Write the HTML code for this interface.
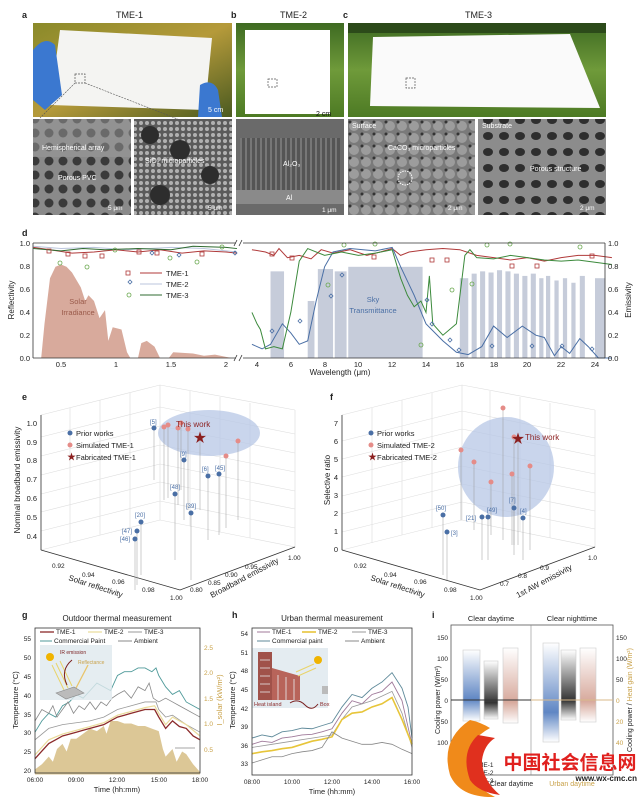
<!DOCTYPE html>
<html><head><meta charset="utf-8"><style>
html,body{margin:0;padding:0;background:#fff;}
svg{display:block;font-family:"Liberation Sans","Noto Sans CJK SC",sans-serif;}
</style></head><body>
<svg width="640" height="798" viewBox="0 0 640 798" xmlns="http://www.w3.org/2000/svg">
<defs>
<linearGradient id="gb" x1="0" y1="0" x2="0" y2="1"><stop offset="0" stop-color="#fff"/><stop offset="0.7" stop-color="#5f86c4"/><stop offset="1" stop-color="#fff"/></linearGradient>
<linearGradient id="gk" x1="0" y1="0" x2="0" y2="1"><stop offset="0" stop-color="#fff"/><stop offset="0.72" stop-color="#333"/><stop offset="1" stop-color="#fff"/></linearGradient>
<linearGradient id="gp" x1="0" y1="0" x2="0" y2="1"><stop offset="0" stop-color="#fff"/><stop offset="0.72" stop-color="#d7a99c"/><stop offset="1" stop-color="#fff"/></linearGradient>
<linearGradient id="fol" x1="0" y1="0" x2="1" y2="1"><stop offset="0" stop-color="#8a8a2a"/><stop offset="0.5" stop-color="#b59a3a"/><stop offset="1" stop-color="#4a5a20"/></linearGradient>
<linearGradient id="grn" x1="0" y1="0" x2="0" y2="1"><stop offset="0" stop-color="#3e6a22"/><stop offset="0.5" stop-color="#6f9a3a"/><stop offset="1" stop-color="#4d7a24"/></linearGradient>
<pattern id="sem1" width="14" height="14" patternUnits="userSpaceOnUse"><rect width="14" height="14" fill="#8a8a8a"/><circle cx="7" cy="7" r="4.5" fill="#3a3a3a"/></pattern>
<pattern id="sem2" width="6" height="6" patternUnits="userSpaceOnUse"><rect width="6" height="6" fill="#5a5a5a"/><circle cx="3" cy="3" r="2" fill="#b0b0b0"/></pattern>
<pattern id="sem3" width="12" height="12" patternUnits="userSpaceOnUse"><rect width="12" height="12" fill="#7a7a7a"/><circle cx="6" cy="6" r="5" fill="#9c9c9c"/><circle cx="2" cy="2" r="1.5" fill="#333"/></pattern>
<pattern id="sem4" width="16" height="16" patternUnits="userSpaceOnUse"><rect width="16" height="16" fill="#8c8c8c"/><ellipse cx="8" cy="8" rx="5" ry="4" fill="#2e2e2e"/></pattern>
<pattern id="alu" width="5" height="10" patternUnits="userSpaceOnUse"><rect width="5" height="10" fill="#555"/><rect width="2" height="10" fill="#777"/></pattern>
</defs>

<!-- ===== Top labels ===== -->
<g font-size="9" fill="#222">
<text x="22" y="18" font-weight="bold">a</text><text x="116" y="18">TME-1</text>
<text x="231" y="18" font-weight="bold">b</text><text x="280" y="18">TME-2</text>
<text x="343" y="18" font-weight="bold">c</text><text x="465" y="18">TME-3</text>
</g>
<!-- photo a -->
<rect x="33" y="23" width="199" height="94" fill="url(#fol)"/>
<polygon points="60,30 212,38 205,110 50,105" fill="#f4f4f2"/>
<path d="M33,50 Q45,35 55,45 L62,95 L45,110 L33,100Z" fill="#3b78d0"/>
<path d="M200,85 Q212,78 218,90 L222,117 L198,117Z" fill="#3b78d0"/>
<rect x="75" y="74" width="10" height="9" fill="none" stroke="#555" stroke-dasharray="2,1" stroke-width="0.7"/>
<line x1="75" y1="83" x2="40" y2="118" stroke="#555" stroke-dasharray="2,1" stroke-width="0.6"/>
<line x1="85" y1="83" x2="180" y2="120" stroke="#555" stroke-dasharray="2,1" stroke-width="0.6"/>
<text x="208" y="112" font-size="7" fill="#fff">5 cm</text>
<!-- photo b -->
<rect x="236" y="23" width="108" height="94" fill="url(#grn)"/>
<rect x="245" y="30" width="85" height="84" fill="#fff"/>
<rect x="268" y="79" width="9" height="8" fill="none" stroke="#555" stroke-dasharray="2,1" stroke-width="0.7"/>
<text x="316" y="116" font-size="7" fill="#111">2 cm</text>
<!-- photo c -->
<rect x="348" y="23" width="258" height="94" fill="url(#grn)"/>
<rect x="348" y="23" width="258" height="10" fill="#2c4a1a"/>
<polygon points="373,37 570,34 600,108 370,106" fill="#fafafa"/>
<rect x="406" y="78" width="9" height="10" fill="none" stroke="#555" stroke-dasharray="2,1" stroke-width="0.7"/>
<!-- SEM row -->
<rect x="33" y="119" width="98" height="96" fill="url(#sem1)"/>
<rect x="33" y="119" width="98" height="38" fill="#9a9a9a" opacity="0.5"/>
<text x="42" y="150" font-size="7" fill="#fff">Hemispherical array</text>
<text x="58" y="180" font-size="7" fill="#fff">Porous PVC</text>
<text x="108" y="210" font-size="6.5" fill="#fff">5 μm</text>
<rect x="134" y="119" width="98" height="96" fill="url(#sem2)"/>
<circle cx="150" cy="135" r="9" fill="#2d2d2d"/><circle cx="180" cy="150" r="10" fill="#2d2d2d"/><circle cx="210" cy="175" r="9" fill="#2d2d2d"/><circle cx="160" cy="195" r="10" fill="#2d2d2d"/>
<text x="145" y="163" font-size="7" fill="#fff">SiO₂ microparticles</text>
<text x="208" y="210" font-size="6.5" fill="#fff">5 μm</text>
<rect x="236" y="119" width="108" height="96" fill="#6a6a6a"/>
<rect x="240" y="138" width="100" height="52" fill="url(#alu)"/>
<rect x="236" y="190" width="108" height="14" fill="#8a8a8a"/>
<text x="283" y="166" font-size="7" fill="#fff">Al₂O₃</text>
<text x="286" y="200" font-size="7" fill="#fff">Al</text>
<text x="322" y="212" font-size="6.5" fill="#fff">1 μm</text>
<rect x="348" y="119" width="127" height="96" fill="url(#sem3)"/>
<text x="352" y="128" font-size="7" fill="#fff">Surface</text>
<text x="388" y="150" font-size="7" fill="#fff">CaCO₃ microparticles</text>
<ellipse cx="405" cy="178" rx="7" ry="7" fill="none" stroke="#fff" stroke-dasharray="1.5,1"/>
<text x="448" y="210" font-size="6.5" fill="#fff">2 μm</text>
<rect x="478" y="119" width="128" height="96" fill="url(#sem4)"/>
<text x="482" y="128" font-size="7" fill="#fff">Substrate</text>
<text x="530" y="171" font-size="7" fill="#fff">Porous structure</text>
<text x="580" y="210" font-size="6.5" fill="#fff">2 μm</text>

<!-- ===== Panel d ===== -->
<text x="22" y="236" font-size="9" font-weight="bold" fill="#222">d</text>
<!-- solar fill -->
<g transform="translate(6,358) scale(110,-114)">
<polygon fill="#d8aa9c" points="0.32,0 0.35,0.3 0.4,0.7 0.45,0.8 0.5,0.82 0.55,0.8 0.6,0.75 0.68,0.62 0.72,0.5 0.75,0.55 0.8,0.5 0.85,0.35 0.9,0.42 0.93,0.15 0.97,0.27 1.05,0.25 1.1,0.05 1.13,0 1.2,0 1.23,0.13 1.28,0.15 1.35,0.1 1.4,0 1.48,0 1.52,0.05 1.7,0.04 1.8,0.02 1.9,0.03 2.0,0.01 2.05,0"/>
<polyline fill="none" stroke="#b03a3a" stroke-width="1" vector-effect="non-scaling-stroke" points="0.25,0.97 0.4,0.95 0.6,0.92 0.8,0.93 1,0.95 1.2,0.93 1.4,0.95 1.6,0.92 1.8,0.94 2.0,0.93 2.1,0.92"/>
<polyline fill="none" stroke="#bbc6dd" stroke-width="1" vector-effect="non-scaling-stroke" points="0.25,0.98 0.5,0.96 0.8,0.97 1.1,0.95 1.5,0.97 1.8,0.96 2.1,0.93"/>
<polyline fill="none" stroke="#2f6b30" stroke-width="1" vector-effect="non-scaling-stroke" points="0.25,0.96 0.5,0.94 0.7,0.96 0.9,0.95 1.2,0.96 1.5,0.95 1.7,0.98 2.0,0.97 2.1,0.96"/>
</g>
<!-- sky transmittance -->
<g transform="translate(189.4,358) scale(16.9,-114)" fill="#c6ccda">
<rect x="4.8" y="0" width="0.8" height="0.76"/>
<rect x="7.0" y="0" width="0.4" height="0.5"/>
<rect x="7.6" y="0" width="0.9" height="0.78"/>
<rect x="8.6" y="0" width="0.7" height="0.76"/>
<rect x="9.4" y="0" width="4.4" height="0.8"/>
<rect x="16.0" y="0" width="0.5" height="0.7"/>
<rect x="16.7" y="0" width="0.3" height="0.74"/><rect x="17.2" y="0" width="0.3" height="0.76"/><rect x="17.7" y="0" width="0.3" height="0.75"/>
<rect x="18.2" y="0" width="0.3" height="0.77"/><rect x="18.7" y="0" width="0.3" height="0.76"/><rect x="19.2" y="0" width="0.3" height="0.74"/>
<rect x="19.7" y="0" width="0.3" height="0.72"/><rect x="20.2" y="0" width="0.3" height="0.74"/><rect x="20.7" y="0" width="0.25" height="0.7"/>
<rect x="21.1" y="0" width="0.25" height="0.72"/><rect x="21.6" y="0" width="0.25" height="0.68"/><rect x="22.1" y="0" width="0.25" height="0.7"/>
<rect x="22.6" y="0" width="0.25" height="0.66"/><rect x="23.1" y="0" width="0.3" height="0.72"/>
<rect x="24.0" y="0" width="0.6" height="0.7"/>
<polyline fill="none" stroke="#b03a3a" stroke-width="1" vector-effect="non-scaling-stroke" points="3.7,0.95 4.5,0.93 5,0.9 5.3,0.96 5.8,0.88 6.5,0.9 7.2,0.87 7.8,0.95 8.5,0.92 9.5,0.95 10.5,0.9 11.3,0.93 12,0.96 12.5,0.9 13,0.93 14,0.95 15,0.96 16,0.95 17,0.9 18,0.88 19,0.86 20,0.88 21,0.85 22,0.88 23,0.9 24,0.9 25,0.88"/>
<polyline fill="none" stroke="#4a6fa5" stroke-width="1" vector-effect="non-scaling-stroke" points="3.7,0.12 4.3,0.08 4.8,0.12 5.5,0.3 6,0.22 6.5,0.12 7,0.15 7.5,0.5 8,0.8 8.5,0.93 9.5,0.96 11,0.94 12,0.97 12.5,0.8 13.3,0.55 14,0.3 15,0.15 15.8,0.05 16.5,0.03 17.3,0.1 18,0.28 18.8,0.18 19.7,0.28 20.5,0.2 21,0.18 21.6,0.02 22,0.1 22.5,0.04 23.1,0.17 23.6,0.1 24.2,0 25,0"/>
<polyline fill="none" stroke="#3c8a3c" stroke-width="1" vector-effect="non-scaling-stroke" points="3.7,0.4 4,0.3 4.2,0.25 4.5,0.08 5,0.1 5.5,0.08 6,0.4 6.5,0.85 7,0.96 8,0.9 9,0.93 10,0.9 11,0.92 12,0.95 12.5,0.7 12.9,0.55 13.3,0.45 13.7,0.5 14,0.4 14.2,0.72 14.4,0.3 15,0.2 15.8,0.3 16.3,0.9 16.6,0.95 17,0.88 18,0.87 19,0.9 20,0.88 21,0.86 22,0.85 23,0.86 24,0.84 25,0.82"/>
</g>
<!-- markers -->
<g fill="none" stroke-width="0.8">
<g stroke="#b03a3a"><rect x="47" y="249" width="4" height="4"/><rect x="66" y="252" width="4" height="4"/><rect x="83" y="254" width="4" height="4"/><rect x="100" y="254" width="4" height="4"/><rect x="137" y="250" width="4" height="4"/><rect x="155" y="251" width="4" height="4"/><rect x="200" y="252" width="4" height="4"/><rect x="270" y="252" width="4" height="4"/><rect x="290" y="256" width="4" height="4"/><rect x="372" y="255" width="4" height="4"/><rect x="430" y="258" width="4" height="4"/><rect x="445" y="258" width="4" height="4"/><rect x="510" y="264" width="4" height="4"/><rect x="535" y="264" width="4" height="4"/><rect x="590" y="254" width="4" height="4"/></g>
<g stroke="#4a6fa5"><path d="M150,253 l2,-2 l2,2 l-2,2z M177,255 l2,-2 l2,2 l-2,2z M233,253 l2,-2 l2,2 l-2,2z M270,331 l2,-2 l2,2 l-2,2z M298,321 l2,-2 l2,2 l-2,2z M329,296 l2,-2 l2,2 l-2,2z M340,275 l2,-2 l2,2 l-2,2z M425,300 l2,-2 l2,2 l-2,2z M430,324 l2,-2 l2,2 l-2,2z M448,340 l2,-2 l2,2 l-2,2z M457,350 l2,-2 l2,2 l-2,2z M490,346 l2,-2 l2,2 l-2,2z M530,346 l2,-2 l2,2 l-2,2z M560,346 l2,-2 l2,2 l-2,2z M590,349 l2,-2 l2,2 l-2,2z"/></g>
<g stroke="#6aa84f"><circle cx="60" cy="263" r="2"/><circle cx="87" cy="267" r="2"/><circle cx="115" cy="250" r="2"/><circle cx="170" cy="258" r="2"/><circle cx="197" cy="262" r="2"/><circle cx="222" cy="247" r="2"/><circle cx="328" cy="285" r="2"/><circle cx="344" cy="245" r="2"/><circle cx="375" cy="244" r="2"/><circle cx="421" cy="345" r="2"/><circle cx="452" cy="290" r="2"/><circle cx="472" cy="284" r="2"/><circle cx="487" cy="245" r="2"/><circle cx="510" cy="244" r="2"/><circle cx="580" cy="247" r="2"/></g>
</g>
<!-- d axes -->
<g stroke="#333" stroke-width="0.8" fill="none">
<line x1="33" y1="243" x2="236" y2="243"/><line x1="243" y1="243" x2="605" y2="243" />
<line x1="33" y1="358" x2="236" y2="358"/><line x1="243" y1="358" x2="605" y2="358"/>
<line x1="33" y1="243" x2="33" y2="358"/><line x1="605" y1="243" x2="605" y2="358"/>
<path d="M234,361 l3,-6 M239,361 l3,-6 M234,246 l3,-6 M239,246 l3,-6"/>
</g>
<g font-size="7.5" fill="#222">
<text x="30" y="246" text-anchor="end">1.0</text><text x="30" y="269" text-anchor="end">0.8</text><text x="30" y="292" text-anchor="end">0.6</text><text x="30" y="315" text-anchor="end">0.4</text><text x="30" y="338" text-anchor="end">0.2</text><text x="30" y="361" text-anchor="end">0.0</text>
<text x="608" y="246">1.0</text><text x="608" y="269">0.8</text><text x="608" y="292">0.6</text><text x="608" y="315">0.4</text><text x="608" y="338">0.2</text><text x="608" y="361">0.0</text>
<text x="61" y="367" text-anchor="middle">0.5</text><text x="116" y="367" text-anchor="middle">1</text><text x="171" y="367" text-anchor="middle">1.5</text><text x="226" y="367" text-anchor="middle">2</text>
<text x="257" y="367" text-anchor="middle">4</text><text x="291" y="367" text-anchor="middle">6</text><text x="325" y="367" text-anchor="middle">8</text><text x="358" y="367" text-anchor="middle">10</text><text x="392" y="367" text-anchor="middle">12</text><text x="426" y="367" text-anchor="middle">14</text><text x="460" y="367" text-anchor="middle">16</text><text x="494" y="367" text-anchor="middle">18</text><text x="527" y="367" text-anchor="middle">20</text><text x="561" y="367" text-anchor="middle">22</text><text x="595" y="367" text-anchor="middle">24</text>
<text x="340" y="375" text-anchor="middle" font-size="8">Wavelength (μm)</text>
<text transform="translate(14,300) rotate(-90)" text-anchor="middle" font-size="8">Reflectivity</text>
<text transform="translate(631,300) rotate(-90)" text-anchor="middle" font-size="8">Emissivity</text>
<text x="78" y="304" text-anchor="middle" fill="#9a5a4a" font-size="7.5">Solar</text>
<text x="78" y="315" text-anchor="middle" fill="#9a5a4a" font-size="7.5">Irradiance</text>
<text x="373" y="302" text-anchor="middle" fill="#4a6fa5" font-size="7.5">Sky</text>
<text x="373" y="313" text-anchor="middle" fill="#4a6fa5" font-size="7.5">Transmittance</text>
<text x="166" y="276">TME-1</text><text x="166" y="287">TME-2</text><text x="166" y="298">TME-3</text>
</g>
<rect x="126" y="271" width="4" height="4" fill="none" stroke="#b03a3a" stroke-width="0.8"/>
<path d="M128,282 l2,-2 l2,2 l-2,2z" fill="none" stroke="#4a6fa5" stroke-width="0.8"/>
<circle cx="129" cy="295" r="2" fill="none" stroke="#6aa84f" stroke-width="0.8"/>
<line x1="140" y1="273" x2="162" y2="273" stroke="#b03a3a"/><line x1="140" y1="284" x2="162" y2="284" stroke="#bbc6dd"/><line x1="140" y1="295" x2="162" y2="295" stroke="#2f6b30"/>

<!-- ===== Panel e ===== -->
<text x="22" y="400" font-size="9" font-weight="bold" fill="#222">e</text>
<g stroke="#ddd" stroke-width="0.6" fill="none">
<path d="M41,550 L160,520 L295,547 L180,590Z"/>
<path d="M41,550 L41,415 M160,520 L160,385 M295,547 L295,410"/>
<path d="M41,415 L160,385 L295,410"/>
<path d="M41,531 L160,501 L295,528 M41,512 L160,482 L295,509 M41,494 L160,464 L295,491 M41,475 L160,445 L295,472 M41,456 L160,426 L295,453 M41,437 L160,407 L295,434"/>
<path d="M70,543 L70,408 M100,535 L100,400 M130,528 L130,393 M190,526 L190,391 M220,532 L220,397 M250,538 L250,403"/>
</g>
<g stroke="#333" stroke-width="0.8" fill="none"><path d="M41,550 L180,590 L295,547"/><path d="M41,415 L41,550"/></g>
<ellipse cx="209" cy="433" rx="51" ry="23" fill="#b7c7e6" opacity="0.75"/>
<g stroke="#999" stroke-width="0.5">
<path d="M154,428 V480 M184,460 V520 M208,476 V540 M219,474 V535 M175,494 V560 M191,513 V580 M141,522 V575 M137,531 V585 M135,539 V590 M200,438 V510 M164,427 V500 M168,425 V498 M178,428 V505 M188,429 V510 M238,441 V520 M226,456 V528 M181,423 V490"/>
</g>
<g fill="#e58c88"><circle cx="164" cy="427" r="2.5"/><circle cx="168" cy="425" r="2.5"/><circle cx="178" cy="428" r="2.5"/><circle cx="188" cy="429" r="2.5"/><circle cx="238" cy="441" r="2.5"/><circle cx="226" cy="456" r="2.5"/><circle cx="181" cy="423" r="2.5"/></g>
<g fill="#4a6fa5"><circle cx="154" cy="428" r="2.5"/><circle cx="184" cy="460" r="2.5"/><circle cx="208" cy="476" r="2.5"/><circle cx="219" cy="474" r="2.5"/><circle cx="175" cy="494" r="2.5"/><circle cx="191" cy="513" r="2.5"/><circle cx="141" cy="522" r="2.5"/><circle cx="137" cy="531" r="2.5"/><circle cx="135" cy="539" r="2.5"/></g>
<text x="200" y="442" font-size="13" fill="#8b1f1f" text-anchor="middle">★</text>
<g font-size="6" fill="#4a6fa5"><text x="150" y="424">[5]</text><text x="180" y="456">[9]</text><text x="202" y="471">[6]</text><text x="215" y="470">[45]</text><text x="170" y="489">[48]</text><text x="186" y="508">[39]</text><text x="135" y="517">[20]</text><text x="122" y="533">[47]</text><text x="120" y="541">[46]</text></g>
<text x="176" y="427" font-size="8" fill="#8b1f1f">This work</text>
<g font-size="7.5" fill="#222">
<circle cx="70" cy="433" r="2.5" fill="#4a6fa5"/><text x="76" y="436">Prior works</text>
<circle cx="70" cy="445" r="2.5" fill="#e58c88"/><text x="76" y="448">Simulated TME-1</text>
<text x="67" y="460" font-size="9" fill="#8b1f1f">★</text><text x="76" y="460">Fabricated TME-1</text>
<text x="37" y="426" text-anchor="end">1.0</text><text x="37" y="445" text-anchor="end">0.9</text><text x="37" y="463" text-anchor="end">0.8</text><text x="37" y="482" text-anchor="end">0.7</text><text x="37" y="501" text-anchor="end">0.6</text><text x="37" y="520" text-anchor="end">0.5</text><text x="37" y="539" text-anchor="end">0.4</text>
<text transform="translate(20,480) rotate(-90)" text-anchor="middle" font-size="8">Nominal broadband emissivity</text>
<text x="52" y="568" font-size="6.5">0.92</text><text x="82" y="577" font-size="6.5">0.94</text><text x="112" y="584" font-size="6.5">0.96</text><text x="142" y="592" font-size="6.5">0.98</text><text x="170" y="600" font-size="6.5">1.00</text>
<text transform="translate(68,580) rotate(18)" font-size="8">Solar reflectivity</text>
<text x="190" y="592" font-size="6.5">0.80</text><text x="208" y="585" font-size="6.5">0.85</text><text x="225" y="577" font-size="6.5">0.90</text><text x="245" y="569" font-size="6.5">0.95</text><text x="288" y="560" font-size="6.5">1.00</text>
<text transform="translate(212,598) rotate(-28)" font-size="8">Broadband emissivity</text>
</g>

<!-- ===== Panel f ===== -->
<text x="330" y="400" font-size="9" font-weight="bold" fill="#222">f</text>
<g stroke="#ddd" stroke-width="0.6" fill="none">
<path d="M342,550 L462,520 L595,547 L480,590Z"/>
<path d="M342,550 L342,415 M462,520 L462,385 M595,547 L595,410"/>
<path d="M342,415 L462,385 L595,410"/>
<path d="M342,532 L462,502 L595,529 M342,514 L462,484 L595,511 M342,496 L462,466 L595,493 M342,477 L462,447 L595,474 M342,459 L462,429 L595,456 M342,441 L462,411 L595,438"/>
<path d="M372,543 L372,408 M402,535 L402,400 M432,528 L432,393 M490,526 L490,391 M520,532 L520,397 M550,538 L550,403"/>
</g>
<g stroke="#333" stroke-width="0.8" fill="none"><path d="M342,550 L480,590 L595,547"/><path d="M342,415 L342,550"/></g>
<ellipse cx="506" cy="467" rx="48" ry="50" fill="#b7c7e6" opacity="0.75"/>
<g stroke="#999" stroke-width="0.5"><path d="M503,408 V540 M514,437 V545 M461,450 V520 M474,462 V530 M491,482 V535 M512,474 V545 M530,466 V550 M443,515 V575 M447,532 V580 M482,517 V560 M488,517 V560 M514,508 V555 M523,518 V560 M518,438 V545"/></g>
<g fill="#e58c88"><circle cx="503" cy="408" r="2.5"/><circle cx="514" cy="437" r="2.5"/><circle cx="461" cy="450" r="2.5"/><circle cx="474" cy="462" r="2.5"/><circle cx="491" cy="482" r="2.5"/><circle cx="512" cy="474" r="2.5"/><circle cx="530" cy="466" r="2.5"/></g>
<g fill="#4a6fa5"><circle cx="443" cy="515" r="2.5"/><circle cx="447" cy="532" r="2.5"/><circle cx="482" cy="517" r="2.5"/><circle cx="488" cy="517" r="2.5"/><circle cx="514" cy="508" r="2.5"/><circle cx="523" cy="518" r="2.5"/></g>
<text x="518" y="443" font-size="13" fill="#8b1f1f" text-anchor="middle">★</text>
<text x="525" y="440" font-size="8" fill="#8b1f1f">This work</text>
<g font-size="6" fill="#4a6fa5"><text x="436" y="510">[50]</text><text x="451" y="535">[3]</text><text x="466" y="520">[21]</text><text x="487" y="512">[49]</text><text x="509" y="502">[7]</text><text x="520" y="513">[4]</text></g>
<g font-size="7.5" fill="#222">
<circle cx="371" cy="433" r="2.5" fill="#4a6fa5"/><text x="377" y="436">Prior works</text>
<circle cx="371" cy="445" r="2.5" fill="#e58c88"/><text x="377" y="448">Simulated TME-2</text>
<text x="368" y="460" font-size="9" fill="#8b1f1f">★</text><text x="377" y="460">Fabricated TME-2</text>
<text x="338" y="426" text-anchor="end">7</text><text x="338" y="444" text-anchor="end">6</text><text x="338" y="462" text-anchor="end">5</text><text x="338" y="480" text-anchor="end">4</text><text x="338" y="498" text-anchor="end">3</text><text x="338" y="516" text-anchor="end">2</text><text x="338" y="534" text-anchor="end">1</text><text x="338" y="552" text-anchor="end">0</text>
<text transform="translate(330,480) rotate(-90)" text-anchor="middle" font-size="8">Selective ratio</text>
<text x="354" y="568" font-size="6.5">0.92</text><text x="384" y="577" font-size="6.5">0.94</text><text x="414" y="584" font-size="6.5">0.96</text><text x="444" y="592" font-size="6.5">0.98</text><text x="470" y="600" font-size="6.5">1.00</text>
<text transform="translate(370,580) rotate(18)" font-size="8">Solar reflectivity</text>
<text x="500" y="586" font-size="6.5">0.7</text><text x="518" y="578" font-size="6.5">0.8</text><text x="540" y="570" font-size="6.5">0.9</text><text x="588" y="560" font-size="6.5">1.0</text>
<text transform="translate(518,598) rotate(-28)" font-size="8">1st AW emissivity</text>
</g>

<!-- ===== Panel g ===== -->
<text x="22" y="618" font-size="9" font-weight="bold" fill="#222">g</text>
<text x="117" y="621" font-size="8" fill="#222" text-anchor="middle">Outdoor thermal measurement</text>
<g transform="translate(-47.5,774.5) scale(13.75,-51)">
<polygon fill="#dcc796" points="6,0 6,0.1 6.5,0.2 7,0.35 7.3,0.25 7.6,0.5 8,0.6 8.3,0.45 8.6,0.7 9,0.7 9.5,0.8 10,0.9 10.5,0.85 11,0.95 11.2,0.8 11.5,1.05 12,1.05 12.5,1.0 13,1.0 13.5,0.95 14,0.95 14.5,0.9 15,0.85 15.3,0.5 15.5,0.35 16,0.5 16.3,0.25 16.7,0.45 17,0.4 17.5,0.2 18,0.05 18,0"/>
</g>
<g transform="translate(-47.5,845.6) scale(13.75,-3.78)" fill="none">
<polyline stroke="#4f9a9a" stroke-width="0.9" vector-effect="non-scaling-stroke" points="6,30 6.5,33 7,35 7.5,34 8,37 8.5,38 9,40 9.5,39 10,41 10.5,43 11,42 11.5,41 12,45 12.5,46 13,46 13.5,47 14,47 14.5,46 14.8,47 15,45 15.5,42 16,40 16.5,41 17,38 17.5,37 18,36"/>
<polyline stroke="#888" stroke-width="0.8" vector-effect="non-scaling-stroke" points="6,33 6.5,36 7,35 7.3,37 7.6,34 8,36 8.4,38 8.8,35 9.2,37 9.6,36 10,38 10.4,36 10.8,38 11.2,37 11.6,39 12,40 12.5,41 13,39 13.5,42 14,41 14.3,43 14.6,39 15,38 15.5,39 16,38 16.5,37 17,36 17.5,35 18,34"/>
<polyline stroke="#999" stroke-width="0.8" vector-effect="non-scaling-stroke" points="6,28 7,31 8,32 9,32.5 10,33 11,34 12,36 13,37 14,38 14.8,38 15,36 15.5,34 16,34.5 17,32 18,30"/>
<polyline stroke="#eadb9a" stroke-width="1.2" vector-effect="non-scaling-stroke" points="6,24 7,28 8,29.5 9,30.5 10,31.5 11,32.5 12,34.5 13,35.5 14,36.5 14.7,37 15,35 15.5,32 16,34 17,32 18,29"/>
<polyline stroke="#8b2a2a" stroke-width="1.3" vector-effect="non-scaling-stroke" points="6,23 6.5,25 7,27 7.5,28 8,29 8.5,29.5 9,30 9.5,30.5 10,31 10.5,31.5 11,32 11.5,33 12,34 12.5,34.5 13,35 13.5,35.5 14,36 14.7,36 15,34 15.5,31 16,33 16.5,31.5 17,31 17.5,29 18,28"/>
</g>
<rect x="40" y="645" width="72" height="55" fill="#dfe9ee" opacity="0.8"/>
<circle cx="50" cy="657" r="4" fill="#f0b400"/>
<path d="M52,665 L64,690 M56,663 L68,688 M60,661 L72,686" stroke="#e9d46a" stroke-width="1"/>
<path d="M75,690 L88,665" stroke="#e9c46a" stroke-width="1.3"/>
<path d="M67,685 Q60,670 72,660" stroke="#7a1f1f" fill="none" stroke-width="1"/>
<polygon points="56,693 74,687 84,693 66,699" fill="#bbb" stroke="#888" stroke-width="0.6"/>
<text x="60" y="654" font-size="5" fill="#7a1f1f">IR emission</text>
<text x="78" y="664" font-size="5" fill="#c9a24a">Reflectance</text>
<rect x="35" y="628" width="165" height="145" fill="none" stroke="#333" stroke-width="0.8"/>
<g font-size="6.5" fill="#222">
<line x1="40" y1="632" x2="54" y2="632" stroke="#8b2a2a" stroke-width="1.3"/><text x="56" y="634">TME-1</text>
<line x1="88" y1="632" x2="102" y2="632" stroke="#eadb9a" stroke-width="1.2"/><text x="104" y="634">TME-2</text>
<line x1="128" y1="632" x2="142" y2="632" stroke="#999"/><text x="144" y="634">TME-3</text>
<line x1="40" y1="641" x2="52" y2="641" stroke="#4f9a9a"/><text x="54" y="643">Commercial Paint</text>
<line x1="118" y1="641" x2="132" y2="641" stroke="#888"/><text x="134" y="643">Ambient</text>
<text x="31" y="641" text-anchor="end">55</text><text x="31" y="660" text-anchor="end">50</text><text x="31" y="679" text-anchor="end">45</text><text x="31" y="698" text-anchor="end">40</text><text x="31" y="717" text-anchor="end">35</text><text x="31" y="735" text-anchor="end">30</text><text x="31" y="754" text-anchor="end">25</text><text x="31" y="773" text-anchor="end">20</text>
<g fill="#c9a24a"><text x="204" y="650">2.5</text><text x="204" y="675">2.0</text><text x="204" y="701">1.5</text><text x="204" y="726">1.0</text><text x="204" y="752">0.5</text></g>
<text x="35" y="782" text-anchor="middle">06:00</text><text x="76" y="782" text-anchor="middle">09:00</text><text x="117" y="782" text-anchor="middle">12:00</text><text x="159" y="782" text-anchor="middle">15:00</text><text x="200" y="782" text-anchor="middle">18:00</text>
<text x="117" y="792" text-anchor="middle" font-size="7.5">Time (hh:mm)</text>
<text transform="translate(18,700) rotate(-90)" text-anchor="middle" font-size="7.5">Temperature (°C)</text>
<text transform="translate(222,700) rotate(-90)" text-anchor="middle" font-size="7.5" fill="#c9a24a">I_solar (kW/m²)</text>
</g>
<line x1="175" y1="748" x2="195" y2="748" stroke="#888" stroke-width="0.8"/>

<!-- ===== Panel h ===== -->
<text x="232" y="618" font-size="9" font-weight="bold" fill="#222">h</text>
<text x="332" y="621" font-size="8" fill="#222" text-anchor="middle">Urban thermal measurement</text>
<g transform="translate(92,968.6) scale(20,-6.23)" fill="none">
<polyline stroke="#5f8a9a" stroke-width="0.9" vector-effect="non-scaling-stroke" points="8,37 8.5,37.5 9,37.2 9.5,38 10,38.2 10.5,38.6 11,38.5 11.5,39 12,39.5 12.5,42 13,44 13.5,43.5 14,45 14.5,46 15,47.5 15.3,46 15.5,45 15.8,42 16,37"/>
<polyline stroke="#a07a9a" stroke-width="0.9" vector-effect="non-scaling-stroke" points="8,36 8.5,36.5 9,36.3 9.5,37 10,37.2 10.5,37.5 11,37.6 11.5,38 12,38.5 12.5,41 13,43 13.5,42.5 14,44 14.5,44.5 15,46 15.5,43 16,36"/>
<polyline stroke="#999" stroke-width="0.8" vector-effect="non-scaling-stroke" points="8,35.5 9,36 10,36.5 11,37 12,37.5 12.5,40 13,42 14,43 15,44.5 15.5,41 16,35.5"/>
<polyline stroke="#e7c53a" stroke-width="1.6" vector-effect="non-scaling-stroke" points="8,34.5 8.5,34.8 9,35 9.5,35.3 10,35.5 10.5,36 11,36.5 11.5,36.8 12,37.2 12.5,40 13,41 13.5,41.2 14,42 14.5,42.5 15,43.5 15.5,40 16,36"/>
<polyline stroke="#888" stroke-width="0.8" vector-effect="non-scaling-stroke" points="8,33 8.5,33.5 9,34 9.5,34 10,34.5 10.5,34.8 11,35 11.5,35.5 12,38 12.5,37 13,36.5 13.5,36 14,36 14.5,36.3 15,36 15.5,35.2 16,34.5"/>
</g>
<rect x="252" y="648" width="76" height="60" fill="#dfe9ee" opacity="0.85"/>
<rect x="258" y="652" width="14" height="48" fill="#a0524a"/>
<polygon points="272,668 300,676 300,700 272,700" fill="#b8645a"/>
<g stroke="#e9eef1" stroke-width="0.8"><path d="M260,660 H270 M260,668 H270 M260,676 H270 M260,684 H270 M260,692 H270 M278,675 V700 M286,677 V700 M294,679 V700"/></g>
<circle cx="318" cy="660" r="4" fill="#f0b400"/>
<path d="M296,672 L314,664 M298,676 L316,668" stroke="#e9d46a"/>
<rect x="322" y="686" width="6" height="8" fill="#bbb"/>
<text x="254" y="706" font-size="5.5" fill="#8b2a2a">Heat island</text>
<text x="320" y="706" font-size="5.5" fill="#8b2a2a">Box</text>
<path d="M290,703 Q298,698 305,705 T318,704" stroke="#7a1f1f" fill="none"/>
<rect x="252" y="628" width="160" height="147" fill="none" stroke="#333" stroke-width="0.8"/>
<g font-size="6.5" fill="#222">
<line x1="257" y1="632" x2="270" y2="632" stroke="#a07a9a"/><text x="272" y="634">TME-1</text>
<line x1="302" y1="632" x2="316" y2="632" stroke="#e7c53a" stroke-width="1.6"/><text x="318" y="634">TME-2</text>
<line x1="352" y1="632" x2="366" y2="632" stroke="#999"/><text x="368" y="634">TME-3</text>
<line x1="257" y1="641" x2="270" y2="641" stroke="#5f8a9a"/><text x="272" y="643">Commercial paint</text>
<line x1="345" y1="641" x2="359" y2="641" stroke="#888"/><text x="361" y="643">Ambient</text>
<text x="248" y="636" text-anchor="end">54</text><text x="248" y="655" text-anchor="end">51</text><text x="248" y="673" text-anchor="end">48</text><text x="248" y="692" text-anchor="end">45</text><text x="248" y="711" text-anchor="end">42</text><text x="248" y="729" text-anchor="end">39</text><text x="248" y="748" text-anchor="end">36</text><text x="248" y="766" text-anchor="end">33</text>
<text x="252" y="784" text-anchor="middle">08:00</text><text x="292" y="784" text-anchor="middle">10:00</text><text x="332" y="784" text-anchor="middle">12:00</text><text x="372" y="784" text-anchor="middle">14:00</text><text x="412" y="784" text-anchor="middle">16:00</text>
<text x="332" y="794" text-anchor="middle" font-size="7.5">Time (hh:mm)</text>
<text transform="translate(235,700) rotate(-90)" text-anchor="middle" font-size="7.5">Temperature (°C)</text>
</g>

<!-- ===== Panel i ===== -->
<text x="432" y="618" font-size="9" font-weight="bold" fill="#222">i</text>
<text x="491" y="621" font-size="7.5" fill="#222" text-anchor="middle">Clear daytime</text>
<text x="572" y="621" font-size="7.5" fill="#222" text-anchor="middle">Clear nighttime</text>
<rect x="451" y="625" width="162" height="150" fill="none" stroke="#555" stroke-width="0.8"/>
<line x1="531" y1="625" x2="531" y2="775" stroke="#888" stroke-width="0.6"/>
<rect x="463" y="650" width="17" height="71" fill="url(#gb)" stroke="#ccc" stroke-width="0.6"/>
<rect x="484" y="661" width="14" height="58" fill="url(#gk)" stroke="#ccc" stroke-width="0.6"/>
<rect x="503" y="648" width="15" height="75" fill="url(#gp)" stroke="#ccc" stroke-width="0.6"/>
<rect x="543" y="643" width="16" height="99" fill="url(#gb)" stroke="#ccc" stroke-width="0.6"/>
<rect x="561" y="650" width="15" height="70" fill="url(#gk)" stroke="#ccc" stroke-width="0.6"/>
<rect x="580" y="648" width="16" height="74" fill="url(#gp)" stroke="#ccc" stroke-width="0.6"/>
<line x1="451" y1="700" x2="531" y2="700" stroke="#333" stroke-width="1"/>
<line x1="531" y1="700" x2="613" y2="700" stroke="#d9b98a" stroke-width="1"/>
<g font-size="6.5" fill="#222">
<text x="448" y="640" text-anchor="end">150</text><text x="448" y="661" text-anchor="end">100</text><text x="448" y="682" text-anchor="end">50</text><text x="448" y="703" text-anchor="end">0</text><text x="448" y="724" text-anchor="end">50</text><text x="448" y="745" text-anchor="end">100</text>
<text x="616" y="640">150</text><text x="616" y="661">100</text><text x="616" y="682">50</text><text x="616" y="703" fill="#c9a24a">0</text><text x="616" y="724" fill="#c9a24a">20</text><text x="616" y="745" fill="#c9a24a">40</text>
<text transform="translate(440,700) rotate(-90)" text-anchor="middle" font-size="7">Cooling power (W/m²)</text>
<text transform="translate(632,700) rotate(-90)" text-anchor="middle" font-size="7">Cooling power / <tspan fill="#c9a24a">Heat gain (W/m²)</tspan></text>
<text x="474" y="767">TME-1</text><text x="474" y="775">TME-2</text><text x="474" y="783">TME-3</text>
<text x="490" y="786" font-size="7">Clear daytime</text>
<text x="572" y="786" font-size="7" fill="#c9a24a" text-anchor="middle">Urban daytime</text>
</g>
<!-- watermark -->
<path d="M470,720 Q440,740 450,775 Q460,798 495,797 Q470,785 468,760 Q468,740 490,728 Q480,722 470,720Z" fill="#f08a1a"/>
<path d="M478,735 Q460,752 470,780 Q478,792 500,795 Q482,780 482,760 Q484,745 495,738Z" fill="#e0301e"/>
<text x="570" y="769" font-size="19" font-weight="bold" fill="#e0201e" text-anchor="middle" font-family="'Noto Sans CJK SC','WenQuanYi Zen Hei',sans-serif">中国社会信息网</text>
<text x="637" y="781" font-size="8" font-weight="bold" fill="#222" text-anchor="end">www.wx-cmc.cn</text>
</svg>
</body></html>
